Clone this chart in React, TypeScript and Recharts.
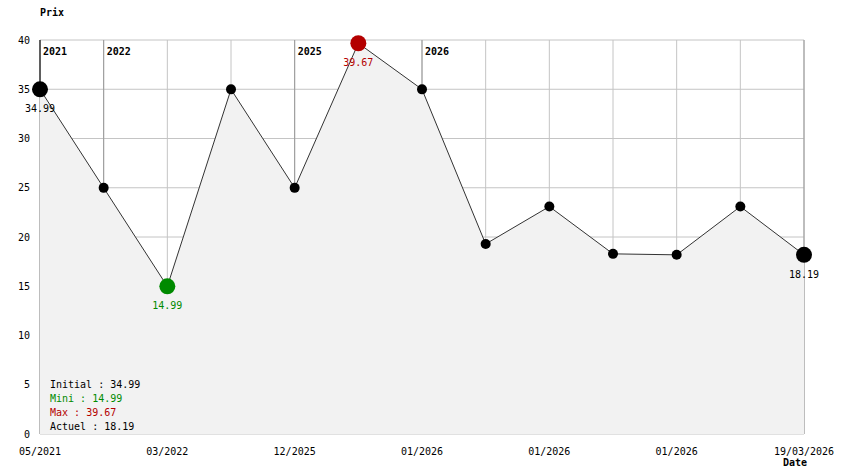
import {
  Area,
  CartesianGrid,
  ComposedChart,
  Line,
  ReferenceLine,
  XAxis,
  YAxis,
} from "recharts";

// price history, one point per recorded change
const prices = [34.99, 24.99, 14.99, 34.99, 24.99, 39.67, 34.99, 19.29, 23.09, 18.29, 18.19, 23.09, 18.19];
const tickIdx = [0, 2, 4, 6, 8, 10, 12];
const tickLabels = ["05/2021", "03/2022", "12/2025", "01/2026", "01/2026", "01/2026", "19/03/2026"];
const yearIdx = [0, 1, 4, 6];
const yearLabels = ["2021", "2022", "2025", "2026"];
const yTicks = [0, 5, 10, 15, 20, 25, 30, 35, 40];

const FONT = "'DejaVu Sans Mono', monospace";
const GREEN = "#008a00";
const RED = "#b40000";

const data = prices.map((price, idx) => ({ idx, price }));
const allIdx = data.map((d) => d.idx);
const minVal = Math.min(...prices);
const maxVal = Math.max(...prices);
const minIdx = prices.indexOf(minVal);
const maxIdx = prices.indexOf(maxVal);
const lastIdx = prices.length - 1;

function renderDot(props: any) {
  const { cx, cy, index } = props;
  let fill = "#000";
  let r = 5;
  let label: string | null = null;
  if (index === 0 || index === lastIdx) {
    r = 8;
    label = prices[index].toFixed(2);
  }
  if (index === minIdx) {
    r = 8;
    fill = GREEN;
    label = minVal.toFixed(2);
  }
  if (index === maxIdx) {
    r = 8;
    fill = RED;
    label = maxVal.toFixed(2);
  }
  return (
    <g key={`dot-${index}`}>
      <circle cx={cx} cy={cy} r={r} fill={fill} />
      {label && (
        <text x={cx} y={cy + 23} textAnchor="middle" fontSize={10} fontFamily={FONT} fill={fill}>
          {label}
        </text>
      )}
    </g>
  );
}

const noTick = () => <g />;

const txt = { position: "absolute" as const, fontFamily: FONT, fontSize: 10, lineHeight: "14px", whiteSpace: "pre" as const };

export default function App() {
  return (
    <div style={{ position: "absolute", left: 0, top: 0, width: 844, height: 474, background: "#fff", overflow: "hidden" }}>
      <ComposedChart width={844} height={474} data={data} margin={{ top: 38, right: 40, bottom: 0, left: 10 }}>
        <XAxis
          dataKey="idx"
          type="number"
          domain={[0, lastIdx]}
          ticks={tickIdx}
          interval={0}
          tickFormatter={(v: number) => tickLabels[tickIdx.indexOf(v)]}
          axisLine={false}
          tickLine={false}
          tickSize={0}
          tickMargin={14}
          height={40}
          tick={{ fontSize: 10, fontFamily: FONT, fill: "#000" }}
        />
        <XAxis xAxisId="all" dataKey="idx" type="number" domain={[0, lastIdx]} ticks={allIdx} interval={0} orientation="top" height={1} tick={noTick} axisLine={false} tickLine={false} />
        <XAxis xAxisId="years" dataKey="idx" type="number" domain={[0, lastIdx]} ticks={yearIdx} interval={0} orientation="top" height={1} tick={noTick} axisLine={false} tickLine={false} />
        <YAxis
          type="number"
          domain={[0, 40]}
          ticks={yTicks}
          interval={0}
          width={30}
          axisLine={false}
          tickLine={false}
          tickSize={0}
          tickMargin={10}
          tick={{ fontSize: 10, fontFamily: FONT, fill: "#000" }}
        />
        <CartesianGrid xAxisId="all" stroke="#c4c4c4" />
        <CartesianGrid xAxisId="years" horizontal={false} stroke="#999" />
        <Area type="linear" dataKey="price" stroke="none" fill="#f2f2f2" fillOpacity={1} isAnimationActive={false} />
        <ReferenceLine segment={[{ x: 0, y: prices[0] }, { x: 0, y: 40 }]} stroke="#000" />
        {yearIdx.map((yi, i) => (
          <ReferenceLine
            key={yearLabels[i]}
            x={yi}
            stroke="none"
            label={(p: any) => (
              <text x={p.viewBox.x + 3} y={p.viewBox.y + 15} fontSize={10} fontWeight="bold" fontFamily={FONT} fill="#000">
                {yearLabels[i]}
              </text>
            )}
          />
        ))}
        <Line
          type="linear"
          dataKey="price"
          stroke="#333"
          strokeWidth={1}
          dot={renderDot}
          activeDot={false}
          isAnimationActive={false}
        />
      </ComposedChart>
      <div style={{ ...txt, left: 40, top: 6, fontWeight: "bold" }}>Prix</div>
      <div style={{ ...txt, left: 783, top: 456, fontWeight: "bold" }}>Date</div>
      <div style={{ ...txt, left: 50, top: 378 }}>
        <div>Initial : {prices[0].toFixed(2)}</div>
        <div style={{ color: GREEN }}>Mini : {minVal.toFixed(2)}</div>
        <div style={{ color: RED }}>Max : {maxVal.toFixed(2)}</div>
        <div>Actuel : {prices[lastIdx].toFixed(2)}</div>
      </div>
    </div>
  );
}
